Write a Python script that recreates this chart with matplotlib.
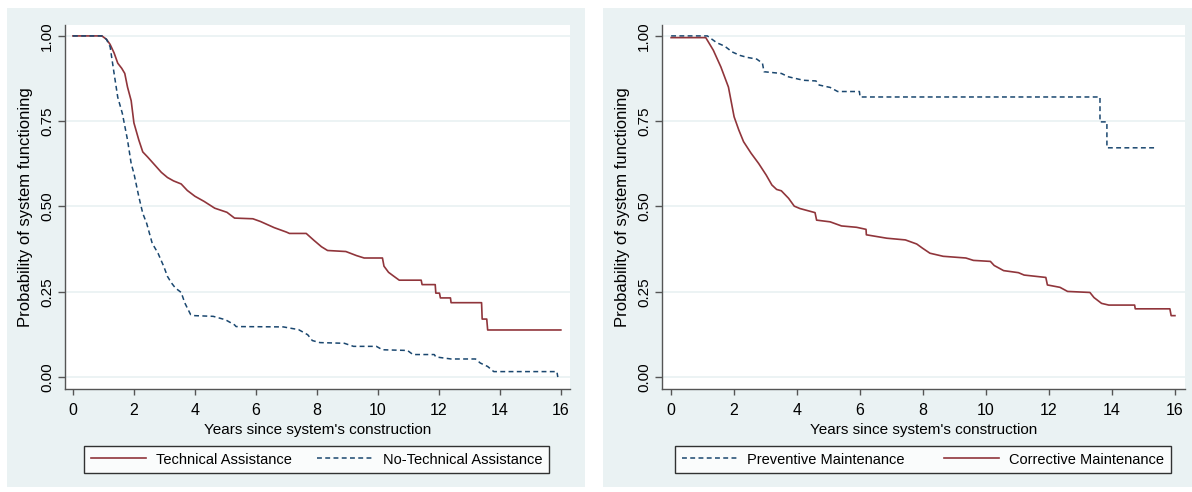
import matplotlib
matplotlib.use("Agg")
import matplotlib.pyplot as plt
from matplotlib.patches import Rectangle

# ---------------- data (Kaplan-Meier curve vertices) ----------------
ta_t = [0, 0.95, 1.1, 1.22, 1.35, 1.47, 1.6, 1.7, 1.79, 1.91, 2.0, 2.08, 2.16, 2.29, 2.45, 2.6,
        2.75, 2.9, 3.1, 3.3, 3.55, 3.75, 4.0, 4.3, 4.65, 5.05, 5.3, 5.9, 6.15, 6.6, 7.0, 7.1,
        7.65, 7.9, 8.15, 8.35, 8.95, 9.3, 9.55, 10.15, 10.2, 10.35, 10.5, 10.7, 11.42, 11.45,
        11.88, 11.9, 12.02, 12.05, 12.38, 12.4, 13.4, 13.42, 13.57, 13.6, 16.0]
ta_s = [1.0, 1.0, 0.99, 0.975, 0.95, 0.92, 0.905, 0.89, 0.85, 0.81, 0.745, 0.72, 0.695, 0.66,
        0.645, 0.63, 0.615, 0.60, 0.585, 0.575, 0.566, 0.547, 0.53, 0.515, 0.495, 0.483, 0.466,
        0.464, 0.456, 0.438, 0.425, 0.421, 0.421, 0.401, 0.382, 0.371, 0.368, 0.356, 0.349,
        0.349, 0.325, 0.307, 0.297, 0.284, 0.284, 0.271, 0.271, 0.246, 0.246, 0.232, 0.232,
        0.218, 0.218, 0.170, 0.170, 0.138, 0.138]

nta_t = [0, 0.95, 1.1, 1.22, 1.35, 1.47, 1.62, 1.79, 1.91, 2.0, 2.16, 2.29, 2.42, 2.6, 2.79,
         2.98, 3.1, 3.23, 3.36, 3.55, 3.67, 3.86, 4.0, 4.6, 5.0, 5.3, 5.35, 6.9, 7.4, 7.7, 7.85,
         8.1, 8.9, 9.2, 9.95, 10.15, 10.97, 11.15, 11.85, 11.9, 12.4, 13.2, 13.36, 13.6, 13.8,
         15.87, 15.9]
nta_s = [1.0, 1.0, 0.99, 0.968, 0.89, 0.82, 0.773, 0.695, 0.626, 0.597, 0.529, 0.48, 0.45,
         0.392, 0.363, 0.324, 0.295, 0.276, 0.261, 0.248, 0.217, 0.183, 0.18, 0.178, 0.168,
         0.153, 0.148, 0.147, 0.139, 0.124, 0.107, 0.101, 0.099, 0.09, 0.09, 0.08, 0.078,
         0.066, 0.066, 0.059, 0.053, 0.053, 0.041, 0.031, 0.016, 0.016, 0.0]

pm_t = [0, 1.15, 1.45, 1.7, 1.94, 2.18, 2.42, 2.72, 2.9, 2.95, 3.5, 3.73, 4.2, 4.6, 4.7, 5.05,
        5.29, 5.98, 6.0, 13.62, 13.62, 13.84, 13.84, 15.4]
pm_s = [1.0, 1.0, 0.98, 0.97, 0.953, 0.943, 0.937, 0.932, 0.92, 0.895, 0.89, 0.88, 0.87, 0.868,
        0.856, 0.849, 0.837, 0.837, 0.821, 0.821, 0.748, 0.748, 0.672, 0.672]

cm_t = [0, 1.1, 1.34, 1.58, 1.82, 2.0, 2.15, 2.3, 2.54, 2.78, 3.02, 3.2, 3.35, 3.5, 3.73, 3.91,
        4.09, 4.57, 4.62, 5.05, 5.41, 5.89, 6.19, 6.2, 6.85, 7.44, 7.8, 7.98, 8.22, 8.64, 9.36,
        9.6, 10.14, 10.26, 10.56, 11.03, 11.21, 11.9, 11.95, 12.35, 12.59, 13.3, 13.43, 13.67,
        13.9, 14.72, 14.74, 15.84, 15.88, 16.0]
cm_s = [0.995, 0.995, 0.958, 0.909, 0.85, 0.763, 0.724, 0.69, 0.656, 0.626, 0.592, 0.563, 0.55,
        0.546, 0.524, 0.501, 0.494, 0.482, 0.46, 0.455, 0.443, 0.439, 0.433, 0.417, 0.407,
        0.402, 0.39, 0.378, 0.363, 0.354, 0.349, 0.342, 0.339, 0.327, 0.312, 0.306, 0.299,
        0.292, 0.27, 0.263, 0.251, 0.248, 0.233, 0.216, 0.211, 0.211, 0.2, 0.2, 0.18, 0.18]

x_ticks = [0, 2, 4, 6, 8, 10, 12, 14, 16]
y_ticks = [0.0, 0.25, 0.5, 0.75, 1.0]
y_ticklabels = ["0.00", "0.25", "0.50", "0.75", "1.00"]
xlabel = "Years since system's construction"
ylabel = "Probability of system functioning"
left_labels = ["Technical Assistance", "No-Technical Assistance"]
right_labels = ["Preventive Maintenance", "Corrective Maintenance"]

# ---------------- style ----------------
BG = "#EAF2F3"
RED = "#90353B"
BLUE = "#1A476F"
AX = "#555555"
FONT = ["Liberation Sans", "DejaVu Sans"]
DASH = (0, (3.2, 2.2))

W, H = 1192, 492
fig = plt.figure(figsize=(W / 100, H / 100), dpi=100)
fig.patch.set_facecolor("white")

# panel backgrounds
for x0, x1 in [(7, 585), (603, 1192)]:
    fig.patches.append(Rectangle((x0 / W, 1 - 487 / H), (x1 - x0) / W, (487 - 8) / H,
                                 transform=fig.transFigure, facecolor=BG, edgecolor="none",
                                 zorder=-10))


def style_axes(ax, xlim):
    ax.set_facecolor("white")
    ax.set_xlim(*xlim)
    ax.set_ylim(-0.035, 1.032)
    for s in ["top", "right"]:
        ax.spines[s].set_visible(False)
    for s in ["left", "bottom"]:
        ax.spines[s].set_color(AX)
        ax.spines[s].set_linewidth(1.0)
    ax.set_yticks(y_ticks)
    ax.set_yticklabels(y_ticklabels, rotation=90, va="center", family=FONT, fontsize=11)
    ax.set_xticks(x_ticks)
    ax.set_xticklabels([str(v) for v in x_ticks], family=FONT, fontsize=11.5)
    ax.tick_params(axis="y", length=5, width=1, color=AX, pad=3)
    ax.tick_params(axis="x", length=4, width=1, color=AX, pad=6)
    for y in y_ticks:
        ax.axhline(y, color=BG, lw=1.3, zorder=0)
    ax.set_xlabel(xlabel, family=FONT, fontsize=11, labelpad=4)
    ax.set_ylabel(ylabel, family=FONT, fontsize=12, labelpad=5)


axL = fig.add_axes([65 / W, 1 - 389 / H, (570 - 65) / W, (389 - 25) / H])
axR = fig.add_axes([662 / W, 1 - 389 / H, (1185 - 662) / W, (389 - 25) / H])
style_axes(axL, (-0.26, 16.3))
style_axes(axR, (-0.29, 16.32))

l1, = axL.plot(ta_t, ta_s, color=RED, lw=1.2)
l2, = axL.plot(nta_t, nta_s, color=BLUE, lw=1.1, linestyle=DASH)
r1, = axR.plot(pm_t, pm_s, color=BLUE, lw=1.1, linestyle=DASH)
r2, = axR.plot(cm_t, cm_s, color=RED, lw=1.2)


def add_legend(handles, labels, x0, x1):
    leg = fig.legend(handles, labels, loc="center", ncol=2, mode="expand",
                     bbox_to_anchor=(x0 / W, 1 - 475 / H, (x1 - x0) / W, 31 / H),
                     bbox_transform=fig.transFigure, frameon=True, fancybox=False,
                     edgecolor="black", prop={"family": FONT, "size": 10.5},
                     handlelength=3.8, handletextpad=0.7, borderpad=0.45,
                     borderaxespad=0)
    leg.get_frame().set_linewidth(1.0)
    leg.get_frame().set_facecolor("white")
    return leg


add_legend([l1, l2], left_labels, 84, 549)
add_legend([r1, r2], right_labels, 675, 1171)

fig.savefig("out.png", dpi=100)
